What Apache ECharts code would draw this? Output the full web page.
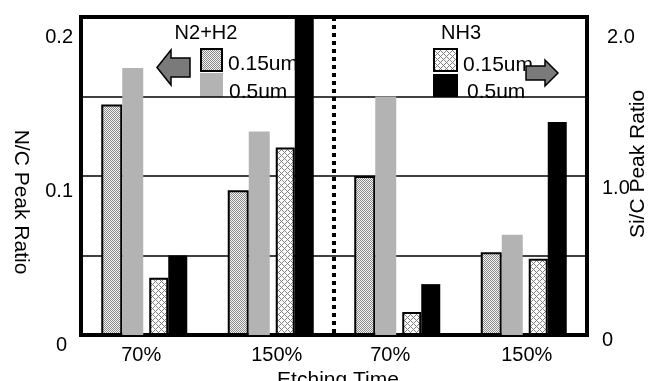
<!DOCTYPE html>
<html><head><meta charset="utf-8">
<script src="https://cdn.jsdelivr.net/npm/echarts@6/dist/echarts.min.js"></script>
<style>html,body{margin:0;padding:0;background:#fff}#c{width:657px;height:381px}</style>
</head><body><div id="c"></div>
<script>
// ---- data ----
const categories = ['70%', '150%', '70%', '150%'];
// N/C peak ratio (left axis)
const nc015 = [0.145, 0.091, 0.100, 0.052];
const nc05 = [0.168, 0.128, 0.150, 0.063];
// Si/C peak ratio (right axis)
const sic015 = [0.36, 1.18, 0.145, 0.48];
const sic05 = [0.50, 2.00, 0.32, 1.34];
const leftTickLabels = ['0', '', '0.1', '', '0.2'];
const rightTickLabels = ['0', '', '1.0', '', '2.0'];
const spacer = [null, null, null, null];

// ---- layout / style ----
const W = 657, H = 381;
const G = {left: 81, right: 587, top: 17, bottom: 335};
const FONT = "'Liberation Sans', Arial, sans-serif";

function makePattern(rows, dark, light) {
  const c = document.createElement('canvas');
  c.width = rows[0].length; c.height = rows.length;
  const ctx = c.getContext('2d');
  rows.forEach((r, y) => { for (let x = 0; x < r.length; x++) { ctx.fillStyle = r[x] === '1' ? dark : light; ctx.fillRect(x, y, 1, 1); } });
  return {image: c, repeat: 'repeat'};
}
const patA = makePattern(['10', '01'], '#8a8a8a', '#f4f4f4');
const patB = makePattern(['100010', '010100', '001000', '010100', '100010', '000001'], '#808080', '#ffffff');

const chart = echarts.init(document.getElementById('c'), null, {renderer: 'canvas'});
const midX = (G.left + G.right) / 2;

const option = {
  backgroundColor: '#fff',
  animation: false,
  textStyle: {fontFamily: FONT, color: '#000'},
  grid: {left: G.left, right: W - G.right, top: G.top, bottom: H - G.bottom, outerBoundsMode: 'none', containLabel: false,
         show: true, borderColor: '#000', borderWidth: 4, backgroundColor: 'transparent'},
  xAxis: {
    type: 'category', data: categories,
    axisLine: {show: false}, axisTick: {show: false},
    axisLabel: {
      margin: 10, fontSize: 20, color: '#000', fontFamily: FONT,
      formatter: (v, i) => '{x' + i + '|' + v + '}',
      rich: {
        x0: {fontSize: 20, fontFamily: FONT, padding: [0, 6, 0, 0]},
        x1: {fontSize: 20, fontFamily: FONT, padding: [0, 0, 0, 12]},
        x2: {fontSize: 20, fontFamily: FONT, padding: [0, 14, 0, 0]},
        x3: {fontSize: 20, fontFamily: FONT, padding: [0, 0, 0, 6]}
      }
    },
    name: 'Etching Time', nameLocation: 'middle', nameGap: 27,
    nameTextStyle: {fontSize: 21, fontFamily: FONT, color: '#000', padding: [0, 0, 0, 8]}
  },
  yAxis: [
    {
      type: 'value', min: 0, max: 0.2, interval: 0.05, position: 'left',
      axisLine: {show: false}, axisTick: {show: false},
      splitLine: {show: true, lineStyle: {color: '#000', width: 1.5}},
      axisLabel: {
        margin: 8, fontSize: 20, color: '#000', fontFamily: FONT, verticalAlign: 'top',
        formatter: (v, i) => leftTickLabels[i] ? '{l' + i + '|' + leftTickLabels[i] + '}' : '',
        rich: {
          l0: {fontSize: 20, fontFamily: FONT, lineHeight: 21, padding: [0, 6, 0, 0]},
          l2: {fontSize: 20, fontFamily: FONT, lineHeight: 30},
          l4: {fontSize: 20, fontFamily: FONT, lineHeight: 40}
        }
      },
      name: 'N/C Peak Ratio', nameLocation: 'middle', nameRotate: -90, nameGap: 50,
      nameTextStyle: {fontSize: 21, fontFamily: FONT, color: '#000', padding: [0, 0, 0, 52]}
    },
    {
      type: 'value', min: 0, max: 2.0, interval: 0.5, position: 'right',
      axisLine: {show: false}, axisTick: {show: false}, splitLine: {show: false},
      axisLabel: {
        margin: 15, fontSize: 20, color: '#000', fontFamily: FONT, verticalAlign: 'top',
        formatter: (v, i) => rightTickLabels[i] ? '{r' + i + '|' + rightTickLabels[i] + '}' : '',
        rich: {
          r0: {fontSize: 20, fontFamily: FONT, lineHeight: 11},
          r2: {fontSize: 20, fontFamily: FONT, lineHeight: 25},
          r4: {fontSize: 20, fontFamily: FONT, lineHeight: 40, padding: [0, 0, 0, 5]}
        }
      },
      name: 'Si/C Peak Ratio', nameLocation: 'middle', nameRotate: 90, nameGap: 41, nameMoveOverlap: false,
      nameTextStyle: {fontSize: 21, fontFamily: FONT, color: '#000', padding: [0, 0, 0, 24]}
    }
  ],
  series: [
    {name: 'N/C 0.15um', type: 'bar', yAxisIndex: 0, data: nc015, barWidth: 21, barGap: 0,
     itemStyle: {color: patA, borderColor: '#000', borderWidth: 2}},
    {name: 'N/C 0.5um', type: 'bar', yAxisIndex: 0, data: nc05, barWidth: 21, barGap: 0,
     itemStyle: {color: '#b3b3b3'}},
    {name: 'gap', type: 'bar', yAxisIndex: 0, data: spacer, barWidth: 6, barGap: 0, silent: true},
    {name: 'Si/C 0.15um', type: 'bar', yAxisIndex: 1, data: sic015, barWidth: 19, barGap: 0,
     itemStyle: {color: patB, borderColor: '#000', borderWidth: 2}},
    {name: 'Si/C 0.5um', type: 'bar', yAxisIndex: 1, data: sic05, barWidth: 19, barGap: 0,
     itemStyle: {color: '#000'}}
  ],
  graphic: [
    // divider
    {type: 'line', z: 5, shape: {x1: midX, y1: G.top, x2: midX, y2: G.bottom},
     style: {stroke: '#000', lineWidth: 4, lineDash: [4, 4]}},
    // N2+H2 legend
    {type: 'text', z: -1, x: 206, y: 33, style: {text: 'N2+H2', font: '20px ' + FONT, fill: '#000', align: 'center', verticalAlign: 'middle'}},
    {type: 'rect', z: -1, shape: {x: 201, y: 49, width: 21, height: 22}, style: {fill: patA, stroke: '#000', lineWidth: 2}},
    {type: 'rect', z: -1, shape: {x: 200, y: 73, width: 23, height: 24}, style: {fill: '#b3b3b3'}},
    {type: 'text', z: -1, x: 228, y: 64, style: {text: '0.15um', font: '21px ' + FONT, fill: '#000', align: 'left', verticalAlign: 'middle'}},
    {type: 'text', z: -1, x: 229, y: 92, style: {text: '0.5um', font: '21px ' + FONT, fill: '#000', align: 'left', verticalAlign: 'middle'}},
    {type: 'polygon', z: -1, shape: {points: [[157, 67.5], [171, 50], [171, 58], [190, 58], [190, 77], [171, 77], [171, 85]]},
     style: {fill: '#7a7a7a', stroke: '#000', lineWidth: 1.5}},
    // NH3 legend
    {type: 'text', z: -1, x: 461, y: 33, style: {text: 'NH3', font: '20px ' + FONT, fill: '#000', align: 'center', verticalAlign: 'middle'}},
    {type: 'rect', z: -1, shape: {x: 434, y: 49, width: 23, height: 22}, style: {fill: patB, stroke: '#000', lineWidth: 2}},
    {type: 'rect', z: -1, shape: {x: 433, y: 74, width: 25, height: 23}, style: {fill: '#000'}},
    {type: 'text', z: -1, x: 463, y: 65, style: {text: '0.15um', font: '21px ' + FONT, fill: '#000', align: 'left', verticalAlign: 'middle'}},
    {type: 'text', z: -1, x: 467, y: 92, style: {text: '0.5um', font: '21px ' + FONT, fill: '#000', align: 'left', verticalAlign: 'middle'}},
    {type: 'polygon', z: 1, shape: {points: [[526, 66], [545, 66], [545, 60], [558, 73], [545, 86], [545, 80], [526, 80]]},
     style: {fill: '#7a7a7a', stroke: '#000', lineWidth: 1.5}}
  ]
};
chart.setOption(option);
</script>
</body></html>
